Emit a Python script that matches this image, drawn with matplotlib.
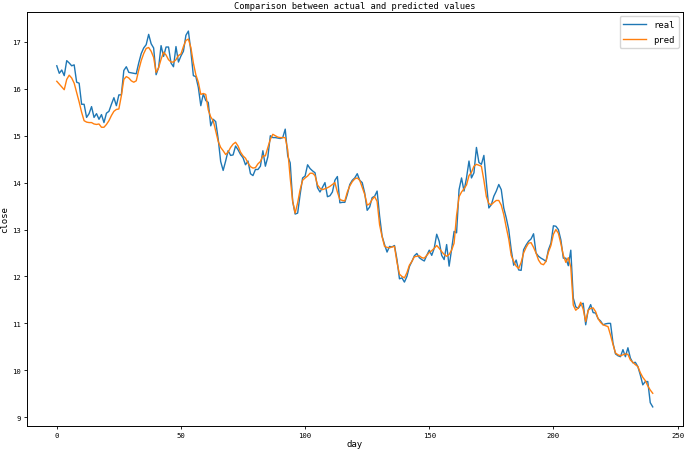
import numpy as np
import matplotlib
matplotlib.use("Agg")
import matplotlib.pyplot as plt

plt.rcParams['font.family'] = ['DejaVu Sans Mono']

# closing price (days 0..240)
real = [
    16.49, 16.33, 16.40, 16.28, 16.60, 16.55, 16.49, 16.51, 16.14, 16.12,
    15.67, 15.67, 15.39, 15.47, 15.62, 15.39, 15.47, 15.35, 15.45, 15.28,
    15.48, 15.52, 15.67, 15.81, 15.64, 15.87, 15.87, 16.39, 16.47, 16.35,
    16.34, 16.33, 16.32, 16.55, 16.75, 16.87, 16.94, 17.16, 16.96, 16.87,
    16.30, 16.45, 16.92, 16.69, 16.89, 16.89, 16.55, 16.47, 16.90, 16.57,
    16.70, 16.80, 17.14, 17.23, 16.80, 16.28, 16.26, 16.03, 15.64, 15.89,
    15.75, 15.71, 15.21, 15.35, 15.30, 14.93, 14.45, 14.26, 14.46, 14.68,
    14.58, 14.59, 14.78, 14.70, 14.60, 14.53, 14.38, 14.46, 14.19, 14.15,
    14.28, 14.28, 14.35, 14.68, 14.35, 14.55, 15.00, 14.96, 14.96, 14.95,
    14.94, 14.96, 15.14, 14.57, 14.42, 13.60, 13.33, 13.35, 13.75, 14.10,
    14.14, 14.38, 14.30, 14.25, 14.21, 13.89, 13.80, 13.90, 14.00, 13.70,
    13.72, 13.80, 14.05, 14.13, 13.57, 13.58, 13.58, 13.75, 13.96, 14.05,
    14.10, 14.19, 14.05, 14.00, 13.78, 13.41, 13.48, 13.68, 13.71, 13.82,
    13.29, 12.86, 12.68, 12.52, 12.64, 12.63, 12.66, 12.36, 11.95, 11.97,
    11.88, 12.00, 12.21, 12.32, 12.44, 12.49, 12.40, 12.36, 12.33, 12.45,
    12.56, 12.45, 12.60, 12.90, 12.75, 12.45, 12.36, 12.68, 12.22, 12.58,
    12.96, 12.93, 13.85, 14.10, 13.82, 14.10, 14.46, 14.10, 14.21, 14.75,
    14.43, 14.39, 14.58, 14.00, 13.46, 13.53, 13.71, 13.82, 13.96, 13.85,
    13.46, 13.25, 13.00, 12.57, 12.24, 12.35, 12.14, 12.13, 12.57, 12.67,
    12.75, 12.80, 12.91, 12.50, 12.43, 12.39, 12.36, 12.32, 12.57, 12.71,
    13.08, 13.07, 13.00, 12.78, 12.39, 12.39, 12.23, 12.56, 11.54, 11.35,
    11.32, 11.40, 11.43, 10.97, 11.28, 11.40, 11.23, 11.22, 11.10, 11.05,
    10.97, 10.99, 11.00, 11.00, 10.58, 10.35, 10.31, 10.29, 10.44, 10.29,
    10.48, 10.26, 10.16, 10.17, 10.08, 9.90, 9.69, 9.76, 9.76, 9.31,
    9.22,
]

pred = [
    16.16, 16.10, 16.04, 15.98, 16.20, 16.29, 16.23, 16.12, 15.92, 15.72,
    15.50, 15.32, 15.29, 15.28, 15.28, 15.25, 15.24, 15.25, 15.18, 15.18,
    15.24, 15.32, 15.43, 15.52, 15.56, 15.57, 15.85, 16.20, 16.26, 16.23,
    16.17, 16.14, 16.17, 16.40, 16.60, 16.75, 16.86, 16.88, 16.80, 16.67,
    16.35, 16.45, 16.63, 16.78, 16.72, 16.62, 16.57, 16.57, 16.62, 16.71,
    16.74, 16.90, 17.03, 17.06, 16.88, 16.55, 16.30, 16.14, 15.88, 15.90,
    15.88, 15.55, 15.40, 15.32, 15.10, 14.88, 14.75, 14.68, 14.60, 14.65,
    14.75, 14.82, 14.86, 14.78, 14.65, 14.57, 14.52, 14.42, 14.34, 14.31,
    14.32, 14.40, 14.45, 14.57, 14.57, 14.75, 14.92, 15.03, 15.00, 14.97,
    14.96, 14.96, 14.96, 14.70, 14.10, 13.60, 13.35, 13.57, 13.85, 14.05,
    14.10, 14.14, 14.20, 14.20, 14.15, 13.95, 13.88, 13.85, 13.87, 13.89,
    13.92, 13.96, 14.00, 13.80, 13.64, 13.62, 13.61, 13.80, 13.93, 14.02,
    14.08, 14.10, 14.05, 13.90, 13.75, 13.52, 13.55, 13.64, 13.70, 13.60,
    13.10, 12.85, 12.64, 12.62, 12.61, 12.63, 12.64, 12.30, 12.05, 12.00,
    11.97, 12.08, 12.24, 12.32, 12.42, 12.43, 12.44, 12.40, 12.39, 12.45,
    12.51, 12.55, 12.60, 12.66, 12.60, 12.53, 12.47, 12.43, 12.47, 12.56,
    12.71, 13.30, 13.70, 13.80, 13.87, 13.95, 14.15, 14.22, 14.35, 14.39,
    14.37, 14.35, 14.05, 13.70, 13.55, 13.53, 13.58, 13.62, 13.62, 13.52,
    13.32, 13.05, 12.80, 12.45, 12.32, 12.22, 12.17, 12.30, 12.50, 12.62,
    12.71, 12.72, 12.62, 12.50, 12.35, 12.27, 12.25, 12.32, 12.52, 12.66,
    12.90, 13.00, 12.92, 12.70, 12.45, 12.30, 12.40, 12.20, 11.39, 11.28,
    11.33, 11.45, 11.30, 11.04, 11.28, 11.32, 11.33, 11.25, 11.10, 11.02,
    10.97, 10.95, 10.93, 10.75, 10.55, 10.37, 10.33, 10.31, 10.33, 10.35,
    10.34, 10.22, 10.17, 10.12, 10.08, 9.95, 9.85, 9.78, 9.67, 9.58,
    9.51,
]

days = np.arange(len(real))

fig = plt.figure(figsize=(6.85, 4.52), dpi=100)
ax = fig.add_subplot(111)
fig.subplots_adjust(left=0.0394, right=0.9964, bottom=0.056, top=0.9706)

ax.plot(days, real, color='tab:blue', lw=1.0, label='real')
ax.plot(days, pred, color='tab:orange', lw=1.0, label='pred')

ax.set_title('Comparison between actual and predicted values', fontsize=6.3, pad=3)
ax.set_xlabel('day', fontsize=6.5, labelpad=1)
ax.set_ylabel('close', fontsize=6.5, labelpad=2)
ax.tick_params(labelsize=5.2, length=2.5, width=0.6, pad=2)
for s in ax.spines.values():
    s.set_linewidth(0.7)

ax.legend(loc='upper right', fontsize=6.4, handlelength=2.6,
          labelspacing=0.7, borderaxespad=0.45, framealpha=0.8)

fig.savefig('out.png', dpi=100, facecolor='white')
